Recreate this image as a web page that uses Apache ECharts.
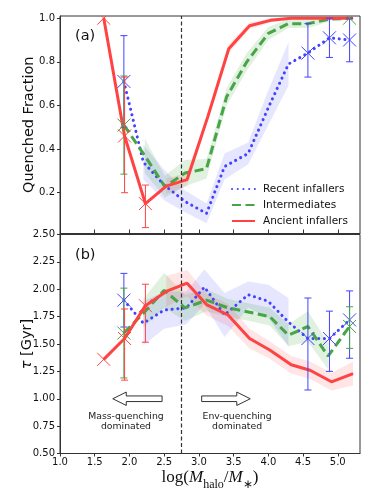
<!DOCTYPE html>
<html>
<head>
<meta charset="utf-8">
<script src="https://cdn.jsdelivr.net/npm/echarts@6/dist/echarts.min.js"></script>
<style>
html, body { margin: 0; padding: 0; background: #fff; }
#chart { width: 374px; height: 501px; }
</style>
</head>
<body>
<div id="chart"></div>
<script>
// ---- panel (a): quenched fraction ----
var qfRecentX     = [1.92, 2.20, 2.50, 2.80, 3.11, 3.37, 3.71, 4.00, 4.29, 4.57, 4.88, 5.17];
var qfRecentY     = [0.71, 0.34, 0.235, 0.16, 0.105, 0.32, 0.38, 0.59, 0.79, 0.84, 0.91, 0.90];
var qfRecentBand  = [null, 0.08, 0.07, 0.05, 0.045, 0.06, 0.05, 0.08, 0.10, null, null, null];
var qfRecentLo    = [0.50, null, null, null, null, null, null, null, null, 0.73, 0.82, 0.80];
var qfRecentHi    = [0.92, null, null, null, null, null, null, null, null, 0.975, 1.0, 1.0];

var qfInterX      = [1.92, 2.22, 2.51, 2.80, 3.11, 3.40, 3.69, 4.00, 4.29, 4.57, 4.88, 5.17];
var qfInterY      = [0.51, 0.37, 0.228, 0.29, 0.31, 0.64, 0.80, 0.93, 0.975, 0.975, 0.995, 1.0];
var qfInterBand   = [null, 0.08, 0.05, 0.06, 0.045, 0.04, 0.04, 0.03, 0.02, 0.02, 0.01, null];
var qfInterLo     = [0.285, null, null, null, null, null, null, null, null, null, null, 1.0];
var qfInterHi     = [0.735, null, null, null, null, null, null, null, null, null, null, 1.0];

var qfAncientX    = [1.63, 1.93, 2.23, 2.53, 2.83, 3.13, 3.43, 3.73, 4.03, 4.33, 4.63, 4.93, 5.22];
var qfAncientY    = [1.0, 0.46, 0.15, 0.23, 0.26, 0.55, 0.86, 0.965, 0.99, 1.0, 1.0, 1.0, 1.0];
var qfAncientBand = [null, null, null, 0.035, 0.03, 0.02, 0.02, 0.015, 0.01, 0.005, 0.005, 0.005, 0.005];
var qfAncientLo   = [1.0, 0.20, 0.04, null, null, null, null, null, null, null, null, null, null];
var qfAncientHi   = [1.0, 0.73, 0.235, null, null, null, null, null, null, null, null, null, null];

// ---- panel (b): tau [Gyr] ----
var tauRecentX     = [1.92, 2.20, 2.50, 2.82, 3.08, 3.37, 3.71, 4.00, 4.29, 4.57, 4.88, 5.17];
var tauRecentY     = [1.90, 1.69, 1.81, 1.83, 2.02, 1.765, 1.95, 1.89, 1.70, 1.55, 1.55, 1.72];
var tauRecentBand  = [null, 0.20, 0.17, 0.15, 0.16, 0.20, 0.12, 0.15, 0.22, null, null, null];
var tauRecentLo    = [1.655, null, null, null, null, null, null, null, null, 1.08, 1.25, 1.37];
var tauRecentHi    = [2.145, null, null, null, null, null, null, null, null, 1.92, 1.80, 1.985];

var tauInterX      = [1.92, 2.20, 2.50, 2.80, 3.11, 3.42, 3.73, 4.02, 4.29, 4.57, 4.86, 5.17];
var tauInterY      = [1.60, 1.78, 1.99, 1.83, 1.90, 1.83, 1.79, 1.75, 1.58, 1.66, 1.39, 1.66];
var tauInterBand   = [null, 0.13, 0.16, 0.12, 0.10, 0.08, 0.08, 0.08, 0.10, 0.14, 0.12, null];
var tauInterLo     = [1.19, null, null, null, null, null, null, null, null, null, null, 1.46];
var tauInterHi     = [2.01, null, null, null, null, null, null, null, null, null, null, 1.84];

var tauAncientX    = [1.63, 1.93, 2.23, 2.53, 2.83, 3.11, 3.42, 3.73, 4.02, 4.33, 4.60, 4.91, 5.22];
var tauAncientY    = [1.36, 1.55, 1.85, 1.98, 2.055, 1.86, 1.765, 1.55, 1.445, 1.31, 1.26, 1.155, 1.23];
var tauAncientBand = [null, null, null, 0.14, 0.12, 0.10, 0.10, 0.09, 0.08, 0.08, 0.08, 0.08, 0.11];
var tauAncientLo   = [1.36, 1.17, 1.516, null, null, null, null, null, null, null, null, null, null];
var tauAncientHi   = [1.36, 1.82, 2.046, null, null, null, null, null, null, null, null, null, null];

// axes / annotations
var xTicks = [1.0, 1.5, 2.0, 2.5, 3.0, 3.5, 4.0, 4.5, 5.0];
var qfTicks = [0.2, 0.4, 0.6, 0.8, 1.0];
var splitX = 2.75;
var arrowTail = [2.47, 3.04];
var arrowTip = [1.76, 3.74];
var arrowY = 1.0;
var noteX = [1.95, 3.55];
var noteY = 0.79;
var notes = ['Mass-quenching\ndominated', 'Env-quenching\ndominated'];

var names = ['Recent infallers', 'Intermediates', 'Ancient infallers'];
var colors = ['#4242ff', '#47a447', '#ff4242'];
var bandColors = ['rgba(60,60,255,0.13)', 'rgba(0,140,0,0.12)', 'rgba(255,40,40,0.12)'];

var chart = echarts.init(document.getElementById('chart'), null, { renderer: 'canvas' });

function pairs(xs, ys) {
	return xs.map(function (x, i) { return [x, ys[i]]; });
}

function bandSeries(g, xs, ys, spread, color) {
	return {
		type: 'custom',
		xAxisIndex: g,
		yAxisIndex: g,
		silent: true,
		z: 1,
		clip: true,
		data: [[xs[0], ys[0]]],
		renderItem: function (params, api) {
			var up = [], dn = [];
			for (var i = 0; i < xs.length; i++) {
				if (spread[i] == null) continue;
				up.push(api.coord([xs[i], ys[i] + spread[i]]));
				dn.unshift(api.coord([xs[i], ys[i] - spread[i]]));
			}
			return { type: 'polygon', shape: { points: up.concat(dn) }, style: { fill: color } };
		}
	};
}

function errSeries(g, xs, ys, lo, hi, color) {
	var d = [];
	xs.forEach(function (x, i) {
		if (lo[i] != null) d.push([x, ys[i], lo[i], hi[i]]);
	});
	return {
		type: 'custom',
		xAxisIndex: g,
		yAxisIndex: g,
		silent: true,
		z: 4,
		clip: true,
		data: d,
		encode: { x: 0, y: [1, 2, 3] },
		renderItem: function (params, api) {
			var c = api.coord([api.value(0), api.value(1)]);
			var l = api.coord([api.value(0), api.value(2)]);
			var h = api.coord([api.value(0), api.value(3)]);
			var s = 6.5, cap = 3.5;
			var st = { stroke: color, lineWidth: 1 };
			var kids = [
				{ type: 'line', shape: { x1: c[0] - s, y1: c[1] - s, x2: c[0] + s, y2: c[1] + s }, style: st },
				{ type: 'line', shape: { x1: c[0] - s, y1: c[1] + s, x2: c[0] + s, y2: c[1] - s }, style: st }
			];
			if (l[1] - h[1] > 0.5) {
				kids.push({ type: 'line', shape: { x1: c[0], y1: l[1], x2: c[0], y2: h[1] }, style: st });
				kids.push({ type: 'line', shape: { x1: c[0] - cap, y1: l[1], x2: c[0] + cap, y2: l[1] }, style: st });
				kids.push({ type: 'line', shape: { x1: c[0] - cap, y1: h[1], x2: c[0] + cap, y2: h[1] }, style: st });
			}
			return { type: 'group', children: kids };
		}
	};
}

var lineStyles = [
	{ width: 3, type: [0.1, 5.6], cap: 'round' },
	{ width: 3, type: [9, 4.5] },
	{ width: 3, type: 'solid' }
];

function lineSeries(g, k, xs, ys, withSplit) {
	var s = {
		type: 'line',
		name: names[k],
		xAxisIndex: g,
		yAxisIndex: g,
		data: pairs(xs, ys),
		symbol: 'none',
		z: 3,
		itemStyle: { color: colors[k] },
		lineStyle: Object.assign({ color: colors[k] }, lineStyles[k])
	};
	if (withSplit) {
		s.markLine = {
			silent: true,
			symbol: ['none', 'none'],
			label: { show: false },
			lineStyle: { color: '#333', type: [4, 2.5], width: 1.2 },
			data: [{ xAxis: splitX }]
		};
	}
	return s;
}

var series = [
	bandSeries(0, qfRecentX, qfRecentY, qfRecentBand, bandColors[0]),
	bandSeries(0, qfInterX, qfInterY, qfInterBand, bandColors[1]),
	bandSeries(0, qfAncientX, qfAncientY, qfAncientBand, bandColors[2]),
	bandSeries(1, tauRecentX, tauRecentY, tauRecentBand, bandColors[0]),
	bandSeries(1, tauInterX, tauInterY, tauInterBand, bandColors[1]),
	bandSeries(1, tauAncientX, tauAncientY, tauAncientBand, bandColors[2]),

	lineSeries(0, 0, qfRecentX, qfRecentY, false),
	lineSeries(0, 1, qfInterX, qfInterY, false),
	lineSeries(0, 2, qfAncientX, qfAncientY, true),
	lineSeries(1, 0, tauRecentX, tauRecentY, false),
	lineSeries(1, 1, tauInterX, tauInterY, false),
	lineSeries(1, 2, tauAncientX, tauAncientY, true),

	errSeries(0, qfRecentX, qfRecentY, qfRecentLo, qfRecentHi, colors[0]),
	errSeries(0, qfInterX, qfInterY, qfInterLo, qfInterHi, colors[1]),
	errSeries(0, qfAncientX, qfAncientY, qfAncientLo, qfAncientHi, colors[2]),
	errSeries(1, tauRecentX, tauRecentY, tauRecentLo, tauRecentHi, colors[0]),
	errSeries(1, tauInterX, tauInterY, tauInterLo, tauInterHi, colors[1]),
	errSeries(1, tauAncientX, tauAncientY, tauAncientLo, tauAncientHi, colors[2]),

	// hollow arrows + notes
	{
		type: 'custom',
		xAxisIndex: 1,
		yAxisIndex: 1,
		silent: true,
		z: 5,
		data: arrowTail.map(function (t, i) { return [t, arrowY, arrowTip[i], noteX[i], noteY, i]; }),
		encode: { x: [0, 2, 3], y: [1, 4] },
		renderItem: function (params, api) {
			var a = api.coord([api.value(0), api.value(1)]);
			var b = api.coord([api.value(2), api.value(1)]);
			var n = api.coord([api.value(3), api.value(4)]);
			var dir = b[0] > a[0] ? 1 : -1;
			var sh = 2.8, hh = 6.7, hl = 13.5;
			var hx = b[0] - dir * hl, cy = a[1];
			var pts = [
				[a[0], cy - sh], [hx, cy - sh], [hx, cy - hh], [b[0], cy],
				[hx, cy + hh], [hx, cy + sh], [a[0], cy + sh]
			];
			return {
				type: 'group',
				children: [
					{ type: 'polygon', shape: { points: pts }, style: { fill: '#fff', stroke: '#333', lineWidth: 1 } },
					{
						type: 'text',
						style: {
							text: notes[api.value(5)],
							x: n[0], y: n[1],
							align: 'center', verticalAlign: 'middle',
							fontSize: 9.3, lineHeight: 10,
							fontFamily: 'DejaVu Sans',
							fill: '#222'
						}
					}
				]
			};
		}
	}
];

var axisLineStyle = { lineStyle: { color: '#333', width: 1 } };
var labelStyle = { color: '#111', fontSize: 10, fontFamily: 'DejaVu Sans' };

var option = {
	animation: false,
	backgroundColor: '#fff',
	textStyle: { fontFamily: 'DejaVu Sans' },
	grid: [
		{ left: 60, top: 16, width: 300, height: 217.5, show: true, borderColor: '#333', borderWidth: 1, backgroundColor: 'transparent' },
		{ left: 60, top: 234.5, width: 300, height: 219, show: true, borderColor: '#333', borderWidth: 1, backgroundColor: 'transparent' }
	],
	legend: {
		data: names,
		orient: 'vertical',
		left: 231,
		top: 183.5,
		padding: 0,
		itemWidth: 23,
		itemHeight: 10,
		itemGap: 5,
		itemStyle: { opacity: 0 },
		textStyle: { fontSize: 10.5, color: '#111', padding: [0, 0, 0, 3] },
		selectedMode: false
	},
	xAxis: [
		{
			type: 'value', gridIndex: 0, min: 1.0, max: 5.32,
			axisLine: axisLineStyle,
			axisTick: { inside: true, length: 4, customValues: xTicks, lineStyle: { color: '#333' } },
			axisLabel: { show: false, customValues: xTicks },
			splitLine: { show: false }
		},
		{
			type: 'value', gridIndex: 1, min: 1.0, max: 5.32,
			axisLine: axisLineStyle,
			axisTick: { length: 3, customValues: xTicks, lineStyle: { color: '#333' } },
			axisLabel: Object.assign({ customValues: xTicks, margin: 4, formatter: function (v) { return v.toFixed(1); } }, labelStyle),
			splitLine: { show: false },
			name: '{n|log(}{i|M}{s|halo}{n|/}{i|M}{s|∗}{n|)}',
			nameLocation: 'middle',
			nameMoveOverlap: false,
			nameGap: 11,
			nameTextStyle: {
				rich: {
					n: { fontFamily: 'Liberation Serif', fontSize: 17, color: '#111', lineHeight: 26, verticalAlign: 'middle' },
					i: { fontFamily: 'Liberation Serif', fontStyle: 'italic', fontSize: 17, color: '#111', lineHeight: 26, verticalAlign: 'middle' },
					s: { fontFamily: 'Liberation Serif', fontSize: 12, color: '#111', lineHeight: 13, verticalAlign: 'bottom' }
				}
			}
		}
	],
	yAxis: [
		{
			type: 'value', gridIndex: 0, min: 0.013, max: 1.01,
			axisLine: axisLineStyle,
			axisTick: { length: 3, customValues: qfTicks, lineStyle: { color: '#333' } },
			axisLabel: Object.assign({ customValues: qfTicks, margin: 5, formatter: function (v) { return v.toFixed(1); } }, labelStyle),
			splitLine: { show: false },
			name: 'Quenched Fraction',
			nameLocation: 'middle',
			nameMoveOverlap: false,
			nameGap: 23,
			nameTextStyle: { fontSize: 14.5, color: '#111', fontFamily: 'DejaVu Sans' }
		},
		{
			type: 'value', gridIndex: 1, min: 0.5, max: 2.5, interval: 0.25,
			axisLine: axisLineStyle,
			axisTick: { length: 3, lineStyle: { color: '#333' } },
			axisLabel: Object.assign({ margin: 5, formatter: function (v) { return v.toFixed(2); } }, labelStyle),
			splitLine: { show: false },
			name: '{t|τ} [Gyr]',
			nameLocation: 'middle',
			nameMoveOverlap: false,
			nameGap: 25,
			nameTextStyle: {
				fontSize: 14.5, color: '#111', fontFamily: 'DejaVu Sans',
				rich: { t: { fontSize: 14.5, fontStyle: 'italic', color: '#111', fontFamily: 'DejaVu Sans' } }
			}
		}
	],
	graphic: [
		{ type: 'text', left: 75, top: 29, style: { text: '(a)', fontSize: 14.5, fill: '#111', fontFamily: 'DejaVu Sans' } },
		{ type: 'text', left: 75, top: 248, style: { text: '(b)', fontSize: 14.5, fill: '#111', fontFamily: 'DejaVu Sans' } }
	],
	series: series
};

chart.setOption(option);
</script>
</body>
</html>
